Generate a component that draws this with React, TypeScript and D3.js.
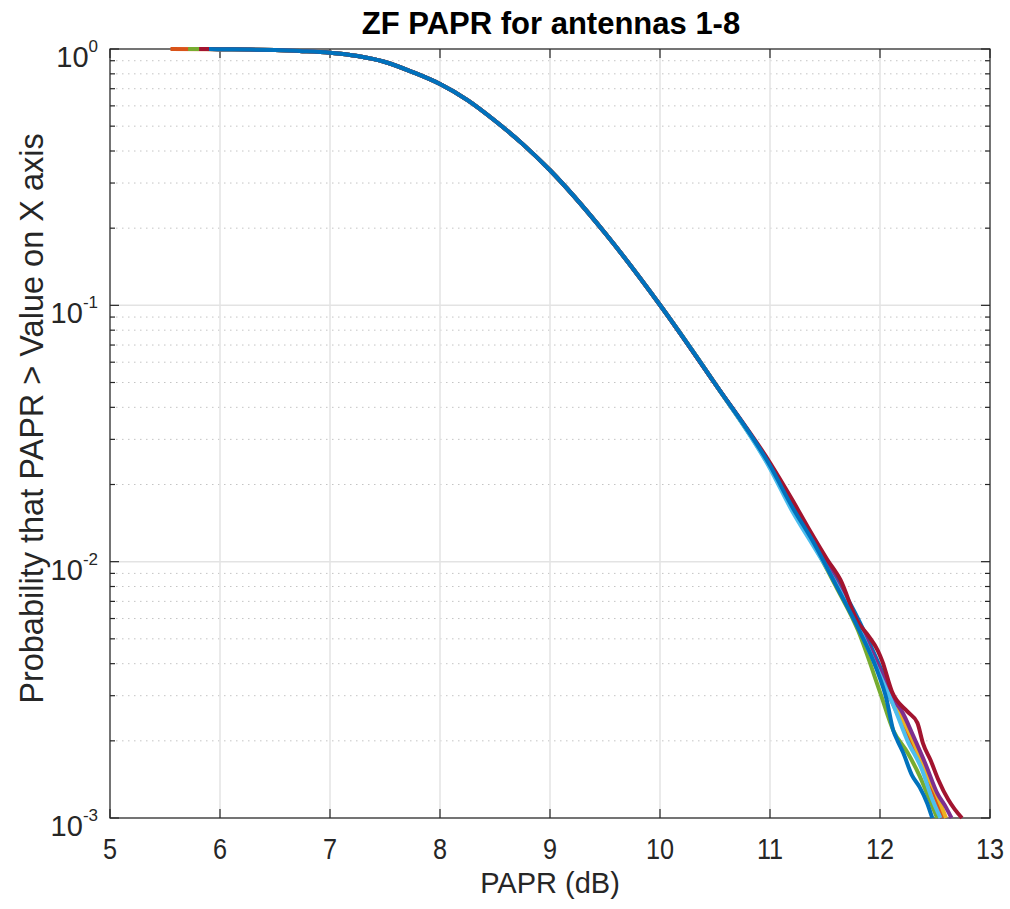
import React from "react";
import * as d3 from "d3";

// ---- data ----
const seriesNames = ["Antenna 1", "Antenna 2", "Antenna 3", "Antenna 4", "Antenna 5", "Antenna 6", "Antenna 7", "Antenna 8"];
const seriesColors = ["#0072BD", "#D95319", "#EDB120", "#7E2F8E", "#77AC30", "#4DBEEE", "#A2142F", "#0072BD"];
// first PAPR value (dB) of each curve, where probability is 1
const startX = [5.96, 5.55, 5.93, 5.86, 5.71, 5.95, 5.81, 5.9];

// shared body of the CCDF (all curves overlap here)
const bodyX = [6.0, 6.25, 6.5, 6.75, 7.0, 7.25, 7.5, 7.75, 8.0, 8.25, 8.5, 8.75, 9.0, 9.5, 10.0, 10.5];
const bodyP = [0.998, 0.9955, 0.99, 0.981, 0.967, 0.939, 0.89, 0.813, 0.73, 0.632, 0.525, 0.4265, 0.3365, 0.1915, 0.1003, 0.0495];

// individual tails [PAPR dB, probability]
const ant1Tail = [[11.0, 0.0238], [11.2, 0.0168], [11.4, 0.0121], [11.6, 0.0086], [11.8, 0.006], [12.0, 0.0039], [12.1, 0.0031], [12.2, 0.0025], [12.3, 0.002], [12.4, 0.0016], [12.5, 0.00125], [12.57, 0.001]];
const ant2Tail = [[11.0, 0.0235], [11.2, 0.0163], [11.4, 0.0118], [11.6, 0.0082], [11.8, 0.0056], [12.0, 0.0036], [12.15, 0.0026], [12.3, 0.0019], [12.43, 0.00145], [12.52, 0.00115], [12.57, 0.001]];
const ant3Tail = [[11.0, 0.0236], [11.2, 0.0165], [11.4, 0.0119], [11.6, 0.0083], [11.8, 0.0057], [12.0, 0.0037], [12.15, 0.0027], [12.3, 0.002], [12.42, 0.0015], [12.52, 0.00122], [12.6, 0.001]];
const ant4Tail = [[11.0, 0.0237], [11.2, 0.0167], [11.4, 0.0121], [11.6, 0.0084], [11.8, 0.0058], [12.0, 0.0038], [12.15, 0.0028], [12.2, 0.0026], [12.3, 0.0021], [12.42, 0.0016], [12.52, 0.00125], [12.6, 0.0011], [12.65, 0.001]];
const ant5Tail = [[11.0, 0.0233], [11.2, 0.0161], [11.4, 0.0116], [11.6, 0.008], [11.8, 0.0054], [12.0, 0.0031], [12.12, 0.0022], [12.25, 0.0018], [12.36, 0.00146], [12.45, 0.00118], [12.52, 0.001]];
const ant6Tail = [[11.0, 0.0231], [11.2, 0.0158], [11.4, 0.0114], [11.6, 0.0082], [11.8, 0.0056], [12.0, 0.0036], [12.13, 0.0027], [12.25, 0.002], [12.38, 0.00155], [12.47, 0.0012], [12.55, 0.001]];
const ant7Tail = [[11.0, 0.0243], [11.2, 0.0175], [11.35, 0.0135], [11.52, 0.0102], [11.64, 0.0085], [11.79, 0.0059], [11.9, 0.0051], [11.98, 0.0045], [12.02, 0.0041], [12.11, 0.0031], [12.25, 0.0026], [12.34, 0.00235], [12.39, 0.00196], [12.46, 0.00168], [12.53, 0.00141], [12.62, 0.00118], [12.68, 0.00108], [12.745, 0.001]];
const ant8Tail = [[11.0, 0.0237], [11.2, 0.0164], [11.4, 0.0118], [11.6, 0.0081], [11.82, 0.0053], [11.97, 0.0038], [12.06, 0.0029], [12.12, 0.0022], [12.16, 0.002], [12.21, 0.0018], [12.29, 0.00147], [12.36, 0.00132], [12.43, 0.00114], [12.475, 0.001]];
const tails = [ant1Tail, ant2Tail, ant3Tail, ant4Tail, ant5Tail, ant6Tail, ant7Tail, ant8Tail];

const xTicks = [5, 6, 7, 8, 9, 10, 11, 12, 13];
const yTicks = [1, 0.1, 0.01, 0.001];
const yExponents = ["0", "-1", "-2", "-3"];

const titleText = "ZF PAPR for antennas 1-8";
const xLabel = "PAPR (dB)";
const yLabel = "Probability that PAPR > Value on X axis";

export default function App() {
  const W = 1010, H = 909;
  const L = 110, R = 990, T = 49, B = 818;
  const x = d3.scaleLinear().domain([5, 13]).range([L, R]);
  const y = d3.scaleLog().domain([0.001, 1]).range([B, T]);
  const font = "'Liberation Sans', Arial, Helvetica, sans-serif";
  const ink = "#262626";

  const minor: number[] = [];
  [0.001, 0.01, 0.1].forEach((d) => {
    for (let m = 2; m <= 9; m++) minor.push(m * d);
  });

  const line = d3
    .line<number[]>()
    .x((d) => x(d[0]))
    .y((d) => y(d[1]))
    .curve(d3.curveMonotoneX);

  const series = seriesNames.map((name, i) => {
    const pts: number[][] = [[startX[i], 1]];
    bodyX.forEach((bx, j) => pts.push([bx, bodyP[j]]));
    tails[i].forEach((p) => pts.push(p));
    return { name, color: seriesColors[i], pts };
  });

  return (
    <svg width={W} height={H} style={{ position: "absolute", left: 0, top: 0, background: "#fff" }} fontFamily={font}>
      <rect x={0} y={0} width={W} height={H} fill="#fff" />
      {/* minor grid */}
      {minor.map((v, i) => (
        <line key={"mg" + i} x1={L} x2={R} y1={y(v)} y2={y(v)} stroke="#c4c4c4" strokeWidth={1} strokeDasharray="1.5,4.5" />
      ))}
      {/* major grid */}
      {xTicks.map((v) => (
        <line key={"gx" + v} x1={x(v)} x2={x(v)} y1={T} y2={B} stroke="#e3e3e3" strokeWidth={1.5} />
      ))}
      {yTicks.map((v) => (
        <line key={"gy" + v} x1={L} x2={R} y1={y(v)} y2={y(v)} stroke="#e3e3e3" strokeWidth={1.5} />
      ))}
      {/* axes box and ticks */}
      <rect x={L} y={T} width={R - L} height={B - T} fill="none" stroke={ink} strokeWidth={1.2} />
      {xTicks.map((v) => (
        <g key={"tx" + v}>
          <line x1={x(v)} x2={x(v)} y1={B} y2={B - 9} stroke={ink} strokeWidth={1.2} />
          <line x1={x(v)} x2={x(v)} y1={T} y2={T + 9} stroke={ink} strokeWidth={1.2} />
        </g>
      ))}
      {yTicks.map((v) => (
        <g key={"ty" + v}>
          <line x1={L} x2={L + 9} y1={y(v)} y2={y(v)} stroke={ink} strokeWidth={1.2} />
          <line x1={R} x2={R - 9} y1={y(v)} y2={y(v)} stroke={ink} strokeWidth={1.2} />
        </g>
      ))}
      {minor.map((v, i) => (
        <g key={"tm" + i}>
          <line x1={L} x2={L + 5} y1={y(v)} y2={y(v)} stroke={ink} strokeWidth={1.2} />
          <line x1={R} x2={R - 5} y1={y(v)} y2={y(v)} stroke={ink} strokeWidth={1.2} />
        </g>
      ))}
      {/* data */}
      {series.map((s, i) => (
        <path key={"s" + i} d={line(s.pts) || ""} fill="none" stroke={s.color} strokeWidth={4} strokeLinejoin="round" />
      ))}
      {/* tick labels */}
      {xTicks.map((v) => (
        <text key={"lx" + v} transform={`translate(${x(v)},859) scale(0.87,1)`} textAnchor="middle" fontSize={29} fill={ink}>
          {v}
        </text>
      ))}
      {yTicks.map((v, i) => (
        <text key={"ly" + v} x={98} y={y(v) + 18} textAnchor="end" fontSize={29} fill={ink}>
          10
          <tspan dy={-15} fontSize={17}>
            {yExponents[i]}
          </tspan>
        </text>
      ))}
      {/* labels */}
      <text x={(L + R) / 2} y={893} textAnchor="middle" fontSize={29} fill={ink}>
        {xLabel}
      </text>
      <text transform={`translate(43,${(T + B) / 2 - 15}) rotate(-90)`} textAnchor="middle" fontSize={32.5} fill={ink}>
        {yLabel}
      </text>
      <text x={(L + R) / 2 + 1} y={34} textAnchor="middle" fontSize={31} fontWeight="bold" fill="#000">
        {titleText}
      </text>
    </svg>
  );
}
